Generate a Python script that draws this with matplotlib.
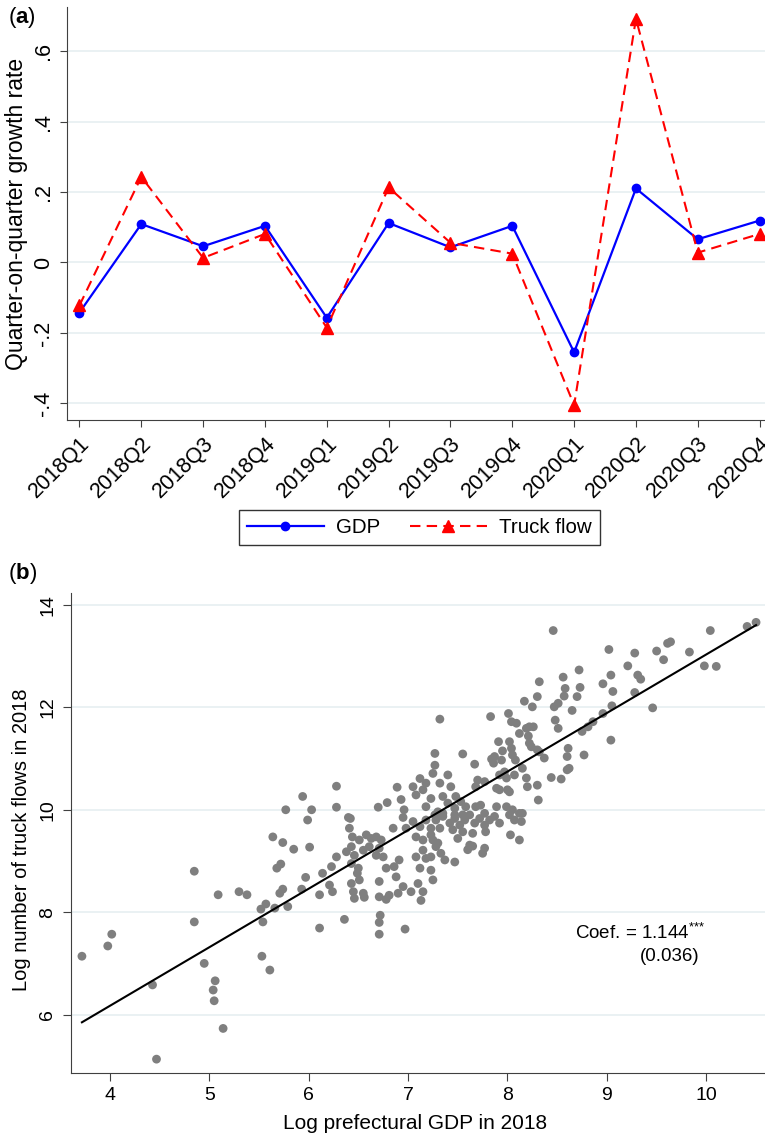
import numpy as np
import matplotlib
matplotlib.use('Agg')
import matplotlib.pyplot as plt

plt.rcParams['font.family'] = ['Liberation Sans', 'DejaVu Sans']
plt.rcParams['mathtext.fontset'] = 'custom'
plt.rcParams['mathtext.rm'] = 'Liberation Sans'
plt.rcParams['mathtext.bf'] = 'Liberation Sans:bold'

# panel (a): quarter-on-quarter growth
quarters = ['2018Q1', '2018Q2', '2018Q3', '2018Q4', '2019Q1', '2019Q2',
            '2019Q3', '2019Q4', '2020Q1', '2020Q2', '2020Q3', '2020Q4']
gdp_growth = [-0.142, 0.109, 0.046, 0.104, -0.157, 0.112,
              0.043, 0.104, -0.255, 0.210, 0.066, 0.119]
truck_growth = [-0.122, 0.243, 0.013, 0.081, -0.185, 0.213,
                0.056, 0.025, -0.405, 0.692, 0.028, 0.081]

# panel (b): prefecture level, 2018
log_gdp = [
    3.72, 3.98, 4.02, 4.43, 4.47, 4.85, 4.85, 4.95, 5.06, 5.04, 5.05, 5.14, 5.09,
    5.30, 5.38, 5.53, 5.61, 5.52, 5.57, 5.54, 5.66, 5.64, 5.68, 5.72, 5.71,
    6.28, 5.94, 5.77, 6.03, 6.28, 5.99, 6.70, 6.79, 6.89, 6.40, 6.42, 6.41, 6.44,
    6.58, 6.63, 6.68, 6.73, 6.85, 6.93, 6.96, 6.95, 6.98, 5.74, 5.85, 6.01, 6.28,
    6.38, 6.43, 6.46, 6.51, 6.55, 6.61, 6.68, 6.71, 6.75, 6.43, 6.50, 6.49, 6.23,
    6.14, 5.97, 5.74, 5.93, 6.11, 6.21, 6.24, 6.43, 6.51, 6.45, 6.55, 6.46, 6.71,
    6.78, 6.71, 6.86, 6.88, 6.91, 6.95, 6.90, 7.08, 7.12, 7.15, 7.18, 7.10, 7.15,
    7.25, 7.03, 7.05, 7.08, 7.12, 7.18, 7.23, 7.15, 7.25, 7.28, 7.12, 7.18, 7.25,
    7.15, 7.23, 7.18, 7.27, 7.27, 7.30, 7.05, 7.08,
    6.56, 6.78, 6.81, 7.13, 5.79, 6.11, 6.36, 6.72, 6.71, 6.71, 6.97,
    7.32, 7.83, 8.01, 8.04, 8.09, 8.17, 8.25, 8.30, 8.32, 8.47, 8.51, 8.56, 8.58,
    8.57, 8.65, 8.70, 8.72, 8.73, 8.48, 8.51, 8.12, 8.19, 8.22, 8.26, 8.21, 8.22,
    8.24, 7.91, 8.02, 8.04, 8.05, 7.95, 8.08, 8.30, 8.32, 8.37, 8.61, 8.60, 8.62,
    8.77, 8.44, 8.54, 8.60, 8.30, 8.31, 8.20, 8.19, 7.55, 7.67, 7.84, 7.87, 7.86,
    7.94, 7.97, 7.92, 7.99, 8.07, 8.15, 7.70, 7.77, 7.68, 7.89, 7.92, 8.00, 8.02,
    7.40, 7.32, 7.43, 7.35, 7.40, 7.48, 7.53, 7.58, 7.47, 7.27, 7.35,
    7.47, 7.55, 7.68, 7.73, 7.77, 7.89, 7.99, 8.05, 8.15,
    7.28, 7.35, 7.42, 7.32, 7.47, 7.52, 7.57, 7.62, 7.67, 7.72, 7.77, 7.82, 7.87,
    7.92, 8.02, 8.07, 8.14, 8.12, 7.45, 7.55, 7.65, 7.78, 7.50, 7.23, 8.03, 8.12,
    7.30, 7.62, 7.65, 7.60, 7.77, 7.75, 7.33, 7.37, 7.47, 7.23, 7.23,
    10.50, 10.41, 10.04, 9.83, 9.98, 10.10, 9.61, 9.64, 9.50, 9.57, 9.02, 9.28,
    9.21, 9.31, 9.34, 9.04, 9.06, 8.96, 9.28, 9.46, 9.05, 8.96, 8.86, 8.81, 8.75,
    9.04, 8.46,
]
log_truck = [
    7.14, 7.34, 7.57, 6.58, 5.13, 8.80, 7.81, 7.00, 6.66, 6.48, 6.27, 5.73, 8.34,
    8.40, 8.34, 7.14, 6.87, 8.06, 8.16, 7.81, 8.08, 9.47, 8.86, 8.94, 8.37,
    10.46, 10.26, 10.00, 10.00, 10.05, 9.80, 10.05, 10.14, 10.44, 9.85, 9.83, 9.64, 9.47,
    9.51, 9.44, 9.47, 9.41, 9.64, 10.20, 10.00, 9.85, 9.64, 9.36, 9.23, 9.27, 9.08,
    9.18, 9.28, 9.11, 9.41, 9.21, 9.28, 9.11, 9.25, 9.08, 8.95, 8.86, 8.76, 8.89,
    8.76, 8.68, 8.45, 8.45, 8.34, 8.53, 8.40, 8.56, 8.63, 8.40, 8.37, 8.27, 8.60,
    8.86, 8.30, 8.89, 8.69, 9.02, 8.50, 8.37, 9.08, 8.86, 9.21, 9.05, 8.56, 8.40,
    8.63, 8.40, 9.77, 9.47, 9.67, 9.80, 9.64, 9.41, 9.41, 9.28, 10.61, 10.52, 10.71,
    10.39, 10.22, 10.06, 11.10, 10.87, 9.96, 10.45, 10.29,
    8.29, 8.25, 8.33, 8.23, 8.11, 7.69, 7.86, 7.94, 7.80, 7.57, 7.67,
    11.77, 11.82, 11.88, 11.72, 11.69, 12.12, 12.01, 12.21, 12.50, 12.01, 12.08, 12.59, 12.37,
    12.22, 11.94, 12.21, 12.73, 12.39, 11.75, 11.59, 11.49, 11.59, 11.62, 11.62, 11.44, 11.30,
    11.23, 11.33, 11.33, 11.20, 11.07, 11.15, 10.97, 11.17, 11.13, 11.01, 11.20, 11.04, 10.81,
    11.07, 10.63, 10.60, 10.78, 10.48, 10.19, 10.45, 10.62, 11.09, 10.89, 10.99, 11.04, 10.91,
    10.97, 10.74, 10.68, 10.62, 10.68, 10.81, 10.58, 10.55, 10.45, 10.42, 10.39, 10.39, 10.35,
    10.68, 10.52, 10.45, 10.26, 10.13, 10.26, 10.16, 10.06, 10.03, 9.90, 9.93,
    9.90, 9.90, 10.06, 10.09, 9.93, 10.06, 10.06, 10.00, 9.93,
    9.80, 9.87, 9.74, 9.64, 9.83, 9.70, 9.80, 9.90, 9.74, 9.83, 9.70, 9.80, 9.87,
    9.74, 9.90, 9.80, 9.77, 9.93, 9.61, 9.57, 9.54, 9.57, 9.44, 9.51, 9.51, 9.41,
    9.35, 9.31, 9.29, 9.22, 9.25, 9.15, 9.15, 9.02, 8.98, 9.08, 8.82,
    13.66, 13.58, 13.50, 13.08, 12.81, 12.80, 13.25, 13.28, 13.10, 12.93, 13.13, 13.06,
    12.81, 12.63, 12.55, 12.63, 12.31, 12.46, 12.29, 11.99, 12.03, 11.88, 11.72, 11.62, 11.53,
    11.36, 13.50,
]
coef = 1.144
intercept = 1.594

fig = plt.figure(figsize=(7.65, 11.36), dpi=100)
axis_col = '#404040'
grid_col = '#e6eff1'

# ---- (a)
ax1 = fig.add_axes([0.0873, 0.630, 0.9127, 0.3638])
pos = np.arange(len(quarters))
ax1.set_xlim(-0.205, 11.087)
ax1.set_ylim(-0.448, 0.725)
yt = [-0.4, -0.2, 0, 0.2, 0.4, 0.6]
ax1.set_yticks(yt)
ax1.set_yticklabels(['-.4', '-.2', '0', '.2', '.4', '.6'], rotation=90, va='center')
ax1.set_xticks(pos)
ax1.set_xticklabels(quarters, rotation=45, ha='right', rotation_mode='anchor')
for v in yt:
    ax1.axhline(v, color=grid_col, lw=1.2, zorder=0)
l1, = ax1.plot(pos, gdp_growth, color='#0000ff', lw=1.6, marker='o', ms=6, label='GDP')
l2, = ax1.plot(pos, truck_growth, color='#ff0000', lw=1.5, ls=(0, (5, 3)), marker='^',
               ms=8, label='Truck flow')
ax1.set_ylabel('Quarter-on-quarter growth rate', fontsize=16.5)
ax1.yaxis.set_label_coords(-0.055, 0.5)
for s in ['top', 'right']:
    ax1.spines[s].set_visible(False)
for s in ['left', 'bottom']:
    ax1.spines[s].set_color(axis_col)
ax1.tick_params(direction='out', length=5, color=axis_col, labelsize=15.5, pad=4)

fig.legend([l1, l2], ['GDP', 'Truck flow'], loc='center', bbox_to_anchor=(0.548, 0.5355),
           ncol=2, frameon=True, fancybox=False, edgecolor='black', fontsize=14.8,
           handlelength=3.75, columnspacing=1.45, borderpad=0.4, handletextpad=0.58)
fig.text(0.01, 1 - 18 / 1136, r'($\mathbf{a}$)', fontsize=16, va='center')

# ---- (b)
ax2 = fig.add_axes([0.0928, 0.0557, 0.9072, 0.4226])
ax2.set_xlim(3.61, 10.59)
ax2.set_ylim(4.865, 14.24)
ax2.set_xticks([4, 5, 6, 7, 8, 9, 10])
ax2.set_yticks([6, 8, 10, 12, 14])
ax2.set_yticklabels(['6', '8', '10', '12', '14'], rotation=90, va='center')
for v in [6, 8, 10, 12, 14]:
    ax2.axhline(v, color=grid_col, lw=1.2, zorder=0)
ax2.scatter(log_gdp, log_truck, s=40, color='#7f7f7f', edgecolors='none', zorder=2)
xs = np.array([min(log_gdp), max(log_gdp)])
ax2.plot(xs, intercept + coef * xs, color='black', lw=1.5, zorder=3)
ax2.text(8.68, 7.60, r'Coef. = 1.144$^{{*}{*}{*}}$', fontsize=13.5, va='center', ha='left')
ax2.text(9.33, 7.125, '(0.036)', fontsize=13.5, va='center', ha='left')
ax2.set_xlabel('Log prefectural GDP in 2018', fontsize=15)
ax2.xaxis.set_label_coords(0.496, -0.085)
ax2.set_ylabel('Log number of truck flows in 2018', fontsize=14.5)
ax2.yaxis.set_label_coords(-0.057, 0.485)
for s in ['top', 'right']:
    ax2.spines[s].set_visible(False)
for s in ['left', 'bottom']:
    ax2.spines[s].set_color(axis_col)
ax2.tick_params(direction='out', length=5.5, color=axis_col, labelsize=14, pad=5)
fig.text(0.01, 1 - 574 / 1136, r'($\mathbf{b}$)', fontsize=16, va='center')

fig.savefig('out.png', dpi=100)
